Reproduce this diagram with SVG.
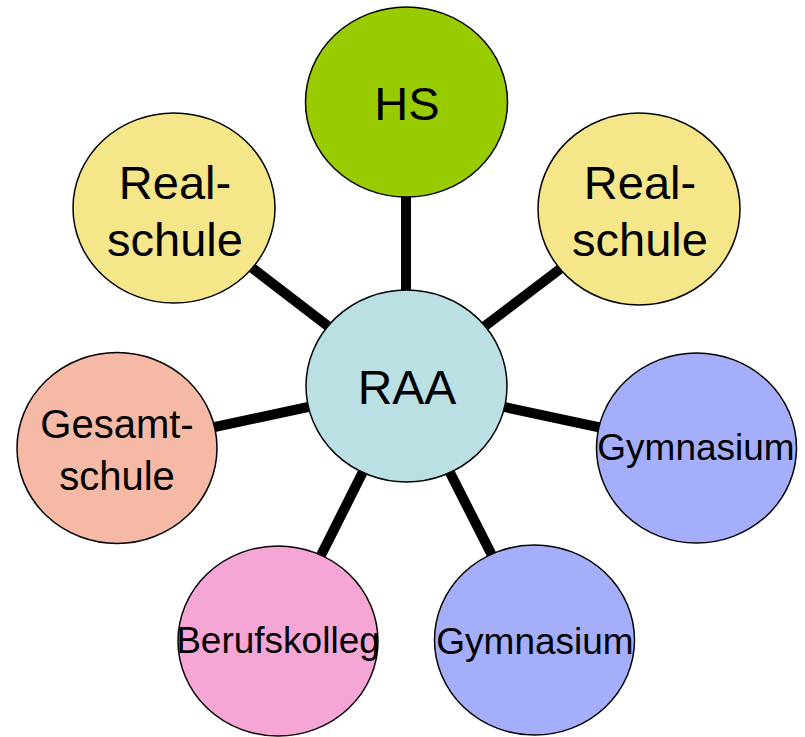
<svg xmlns="http://www.w3.org/2000/svg" width="805" height="737" viewBox="0 0 805 737">
  <style>
    .node ellipse { stroke: #000; stroke-width: 1.5; }
    .conn line { stroke: #000; stroke-width: 10; }
    text { font-family: "Liberation Sans", Arial, sans-serif; fill: #000; text-anchor: middle; }
    .big { font-size: 47px; }
    .mid { font-size: 40px; }
    .small { font-size: 37px; }
  </style>
  <rect width="805" height="737" fill="#fff"/>
  <g id="connectors" class="conn">
    <line x1="406" y1="386" x2="406" y2="102"/>
    <line x1="406" y1="386" x2="174" y2="208"/>
    <line x1="406" y1="386" x2="639" y2="209"/>
    <line x1="406" y1="386" x2="117" y2="448"/>
    <line x1="406" y1="386" x2="696" y2="448"/>
    <line x1="406" y1="386" x2="278" y2="641"/>
    <line x1="406" y1="386" x2="535" y2="640"/>
  </g>
  <g id="hs" class="node">
    <ellipse cx="406.5" cy="102" rx="101" ry="95" fill="#99CC00"/>
    <text x="407" y="120" class="big">HS</text>
  </g>
  <g id="realschule-left" class="node">
    <ellipse cx="174" cy="208" rx="101" ry="95" fill="#F5E68A"/>
    <text x="175" y="199" class="big">Real-</text>
    <text x="175" y="256" class="big">schule</text>
  </g>
  <g id="realschule-right" class="node">
    <ellipse cx="639" cy="209" rx="101" ry="96" fill="#F5E68A"/>
    <text x="640" y="199" class="big">Real-</text>
    <text x="640" y="256" class="big">schule</text>
  </g>
  <g id="raa" class="node">
    <ellipse cx="406.5" cy="386" rx="100.5" ry="96" fill="#BAE0E4"/>
    <text x="407" y="404" class="big" style="font-size:48px">RAA</text>
  </g>
  <g id="gesamtschule" class="node">
    <ellipse cx="117" cy="448" rx="100" ry="95.5" fill="#F5B9A5"/>
    <text x="117" y="438" class="mid">Gesamt-</text>
    <text x="117" y="490" class="mid">schule</text>
  </g>
  <g id="gymnasium-right" class="node">
    <ellipse cx="696.5" cy="448" rx="100" ry="95" fill="#A5AEFA"/>
    <text x="696" y="460" class="small">Gymnasium</text>
  </g>
  <g id="berufskolleg" class="node">
    <ellipse cx="278" cy="641" rx="100" ry="95" fill="#F5A6D5"/>
    <text x="278" y="653" class="small">Berufskolleg</text>
  </g>
  <g id="gymnasium-bottom" class="node">
    <ellipse cx="534.5" cy="640" rx="100" ry="95" fill="#A5AEFA"/>
    <text x="535" y="654" class="small">Gymnasium</text>
  </g>
</svg>
